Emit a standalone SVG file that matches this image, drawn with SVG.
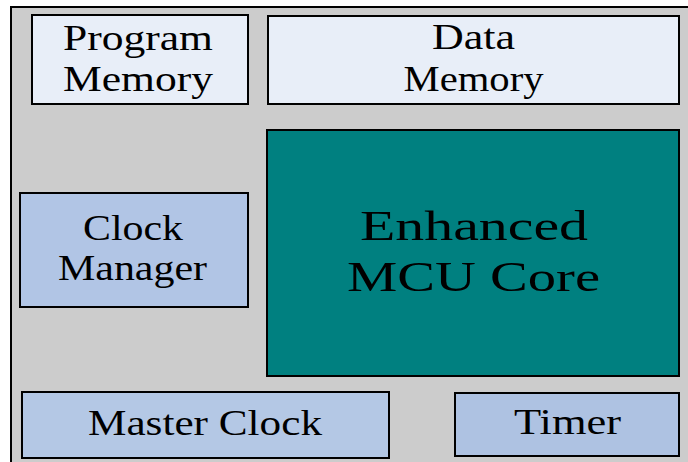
<svg xmlns="http://www.w3.org/2000/svg" width="688" height="462" viewBox="0 0 688 462">
<style>
.box{stroke:#000;stroke-width:2}
.t{font-family:"Liberation Serif","Times New Roman",serif;font-size:35px;fill:#000;text-anchor:middle}
.big{font-size:43px}
</style>
<rect x="0" y="0" width="688" height="462" fill="#ffffff"/>
<g id="chip">
<rect x="11" y="7" width="690" height="470" fill="#cccccc" stroke="#000" stroke-width="2"/>
</g>
<g id="connectors"></g>
<g id="program-memory">
<rect class="box" x="32" y="15" width="216" height="89" fill="#e8eef8"/>
<text class="t" x="138" y="50" textLength="150" lengthAdjust="spacingAndGlyphs">Program</text>
<text class="t" x="138" y="91" textLength="150" lengthAdjust="spacingAndGlyphs">Memory</text>
</g>
<g id="data-memory">
<rect class="box" x="268" y="16" width="411" height="88" fill="#e8eef8"/>
<text class="t" x="473.5" y="49" textLength="83" lengthAdjust="spacingAndGlyphs">Data</text>
<text class="t" x="473.5" y="91" textLength="140" lengthAdjust="spacingAndGlyphs">Memory</text>
</g>
<g id="mcu-core">
<rect class="box" x="267" y="130" width="412" height="246" fill="#008080"/>
<text class="t big" x="474" y="240" textLength="228" lengthAdjust="spacingAndGlyphs">Enhanced</text>
<text class="t big" x="473.5" y="291" textLength="253" lengthAdjust="spacingAndGlyphs">MCU Core</text>
</g>
<g id="clock-manager">
<rect class="box" x="20" y="193" width="228" height="114" fill="#b1c5e5"/>
<text class="t" x="133" y="240" textLength="100" lengthAdjust="spacingAndGlyphs">Clock</text>
<text class="t" x="132.5" y="280" textLength="149" lengthAdjust="spacingAndGlyphs">Manager</text>
</g>
<g id="master-clock">
<rect class="box" x="22" y="392" width="367" height="66" fill="#b4c8e5"/>
<text class="t" x="205" y="435" textLength="234" lengthAdjust="spacingAndGlyphs">Master Clock</text>
</g>
<g id="timer">
<rect class="box" x="455" y="393" width="224" height="63" fill="#aec2e2"/>
<text class="t" x="567.5" y="434" textLength="107" lengthAdjust="spacingAndGlyphs">Timer</text>
</g>
</svg>
